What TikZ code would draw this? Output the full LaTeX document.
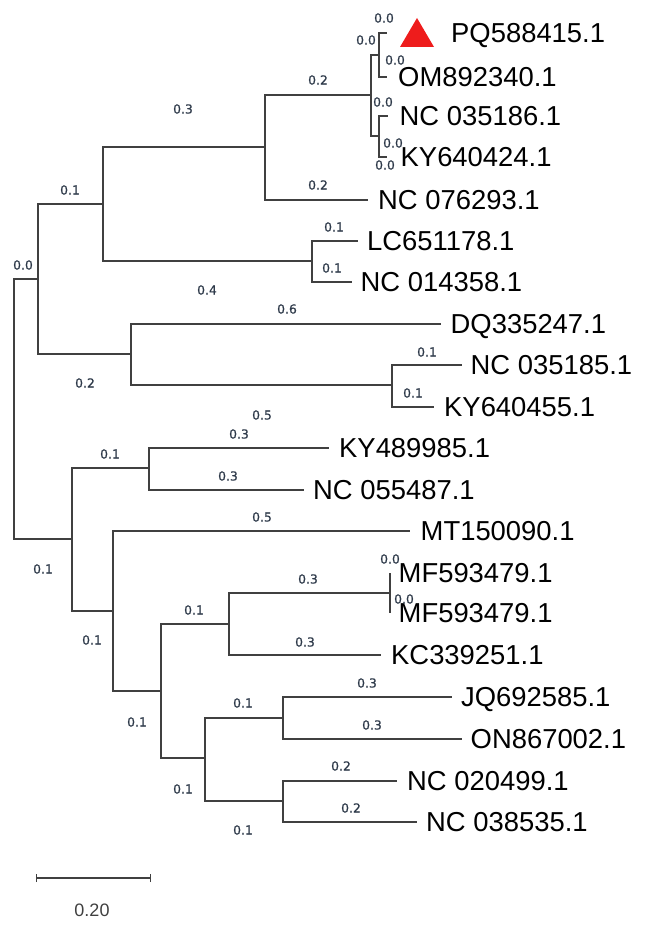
\documentclass[tikz,border=0pt]{standalone}
\usepackage{fontspec}
\setmainfont{Liberation Sans}
\newfontfamily\lblfont[FakeBold=0.6]{DejaVu Sans}
\definecolor{linegray}{HTML}{404040}
\definecolor{lblcol}{HTML}{2E3A4A}
\definecolor{trired}{HTML}{EE1C1C}
\begin{document}
\begin{tikzpicture}[x=1pt,y=-1pt,
  br/.style={draw=linegray, line width=1.4pt},
  leaf/.style={anchor=base west, inner sep=0pt, font=\fontsize{27.4}{30}\selectfont, text=black},
  bl/.style={inner sep=0pt, font=\lblfont\fontsize{12.4}{14}\selectfont, text=lblcol},
  scl/.style={inner sep=0pt, font=\fontsize{18}{20}\selectfont, text=linegray}]
\useasboundingbox (0,0) rectangle (646,933);
% internal nodes
\coordinate (root) at (14,409);
\coordinate (A) at (38,279);
\coordinate (B) at (103,204);
\coordinate (D) at (265,147);
\coordinate (F) at (371,95);
\coordinate (G) at (379,55);
\coordinate (H) at (379,136);
\coordinate (E) at (312,261);
\coordinate (C) at (131,354);
\coordinate (I) at (392,385);
\coordinate (J) at (72,539);
\coordinate (K) at (149,468);
\coordinate (L) at (113,611);
\coordinate (M) at (161,691);
\coordinate (N) at (229,624);
\coordinate (P) at (390,593);
\coordinate (O) at (205,758);
\coordinate (Q) at (283,718);
\coordinate (R) at (283,801);
% tips
\coordinate (tPQ) at (387,33);
\coordinate (tOM) at (387,77);
\coordinate (tNCa) at (388,116);
\coordinate (tKYa) at (387,157);
\coordinate (tNCb) at (368,200);
\coordinate (tLC) at (358,241);
\coordinate (tNCc) at (352,282);
\coordinate (tDQ) at (441,324);
\coordinate (tNCd) at (462,365);
\coordinate (tKYb) at (434,407);
\coordinate (tKYc) at (329,448);
\coordinate (tNCe) at (304,490);
\coordinate (tMT) at (410,531);
\coordinate (tMFa) at (390,573);
\coordinate (tMFb) at (390,613);
\coordinate (tKC) at (381,655);
\coordinate (tJQ) at (452,697);
\coordinate (tON) at (462,739);
\coordinate (tNCf) at (397,781);
\coordinate (tNCg) at (417,822);
% branches
\draw[br] (root) |- (A);
\draw[br] (root) |- (J);
\draw[br] (A) |- (B);
\draw[br] (A) |- (C);
\draw[br] (B) |- (D);
\draw[br] (B) |- (E);
\draw[br] (D) |- (F);
\draw[br] (D) |- (tNCb);
\draw[br] (F) |- (G);
\draw[br] (F) |- (H);
\draw[br] (G) |- (tPQ);
\draw[br] (G) |- (tOM);
\draw[br] (H) |- (tNCa);
\draw[br] (H) |- (tKYa);
\draw[br] (E) |- (tLC);
\draw[br] (E) |- (tNCc);
\draw[br] (C) |- (tDQ);
\draw[br] (C) |- (I);
\draw[br] (I) |- (tNCd);
\draw[br] (I) |- (tKYb);
\draw[br] (J) |- (K);
\draw[br] (J) |- (L);
\draw[br] (K) |- (tKYc);
\draw[br] (K) |- (tNCe);
\draw[br] (L) |- (tMT);
\draw[br] (L) |- (M);
\draw[br] (M) |- (N);
\draw[br] (M) |- (O);
\draw[br] (N) |- (P);
\draw[br] (N) |- (tKC);
\draw[br] (P) -- (tMFa);
\draw[br] (P) -- (tMFb);
\draw[br] (O) |- (Q);
\draw[br] (O) |- (R);
\draw[br] (Q) |- (tJQ);
\draw[br] (Q) |- (tON);
\draw[br] (R) |- (tNCf);
\draw[br] (R) |- (tNCg);
% marker
\fill[trired] (400,47) -- (434,47) -- (417,18) -- cycle;
% leaf labels
\node[leaf] (lPQ) at (451,42.8) {PQ588415.1};
\node[leaf] (lOM) at (398,86.8) {OM892340.1};
\node[leaf] (lNCa) at (399.5,125.8) {NC 035186.1};
\node[leaf] (lKYa) at (400.5,166.8) {KY640424.1};
\node[leaf] (lNCb) at (378,209.8) {NC 076293.1};
\node[leaf] (lLC) at (367,250.8) {LC651178.1};
\node[leaf] (lNCc) at (360.5,291.8) {NC 014358.1};
\node[leaf] (lDQ) at (450.5,333.8) {DQ335247.1};
\node[leaf] (lNCd) at (470.5,374.8) {NC 035185.1};
\node[leaf] (lKYb) at (444,416.8) {KY640455.1};
\node[leaf] (lKYc) at (339,457.8) {KY489985.1};
\node[leaf] (lNCe) at (313,499.8) {NC 055487.1};
\node[leaf] (lMT) at (420.5,540.8) {MT150090.1};
\node[leaf] (lMFa) at (398.5,582.8) {MF593479.1};
\node[leaf] (lMFb) at (398.5,622.8) {MF593479.1};
\node[leaf] (lKC) at (391,664.8) {KC339251.1};
\node[leaf] (lJQ) at (461,706.8) {JQ692585.1};
\node[leaf] (lON) at (470.5,748.8) {ON867002.1};
\node[leaf] (lNCf) at (407,790.8) {NC 020499.1};
\node[leaf] (lNCg) at (426,831.8) {NC 038535.1};
% branch lengths
\node[bl] (b1) at (384,18) {0.0};
\node[bl] (b2) at (366,40) {0.0};
\node[bl] (b3) at (395,60) {0.0};
\node[bl] (b4) at (383,102) {0.0};
\node[bl] (b5) at (393,143) {0.0};
\node[bl] (b6) at (385,165) {0.0};
\node[bl] (b7) at (318,80) {0.2};
\node[bl] (b8) at (318,185) {0.2};
\node[bl] (b9) at (183,109) {0.3};
\node[bl] (b10) at (70,190) {0.1};
\node[bl] (b11) at (23,265) {0.0};
\node[bl] (b12) at (334,227) {0.1};
\node[bl] (b13) at (332,268) {0.1};
\node[bl] (b14) at (207,290) {0.4};
\node[bl] (b15) at (287,309) {0.6};
\node[bl] (b16) at (85,383) {0.2};
\node[bl] (b17) at (427,352) {0.1};
\node[bl] (b18) at (413,393) {0.1};
\node[bl] (b19) at (262,415) {0.5};
\node[bl] (b20) at (239,434) {0.3};
\node[bl] (b21) at (110,454) {0.1};
\node[bl] (b22) at (228,476) {0.3};
\node[bl] (b23) at (262,517) {0.5};
\node[bl] (b24) at (43,569) {0.1};
\node[bl] (b25) at (308,579) {0.3};
\node[bl] (b26) at (390,559) {0.0};
\node[bl] (b27) at (404,599) {0.0};
\node[bl] (b28) at (194,610) {0.1};
\node[bl] (b29) at (92,640) {0.1};
\node[bl] (b30) at (305,642) {0.3};
\node[bl] (b31) at (367,683) {0.3};
\node[bl] (b32) at (243,703) {0.1};
\node[bl] (b33) at (137,722) {0.1};
\node[bl] (b34) at (372,725) {0.3};
\node[bl] (b35) at (341,766) {0.2};
\node[bl] (b36) at (183,789) {0.1};
\node[bl] (b37) at (351,808) {0.2};
\node[bl] (b38) at (243,830) {0.1};
% scale bar
\coordinate (s1) at (36.7,878);
\coordinate (s2) at (150.3,878);
\draw[br] (s1) -- (s2);
\draw[br] ([yshift=-4pt]s1) -- ([yshift=4pt]s1);
\draw[br] ([yshift=-4pt]s2) -- ([yshift=4pt]s2);
\node[scl] (sclab) at (92,910) {0.20};
\end{tikzpicture}
\end{document}
